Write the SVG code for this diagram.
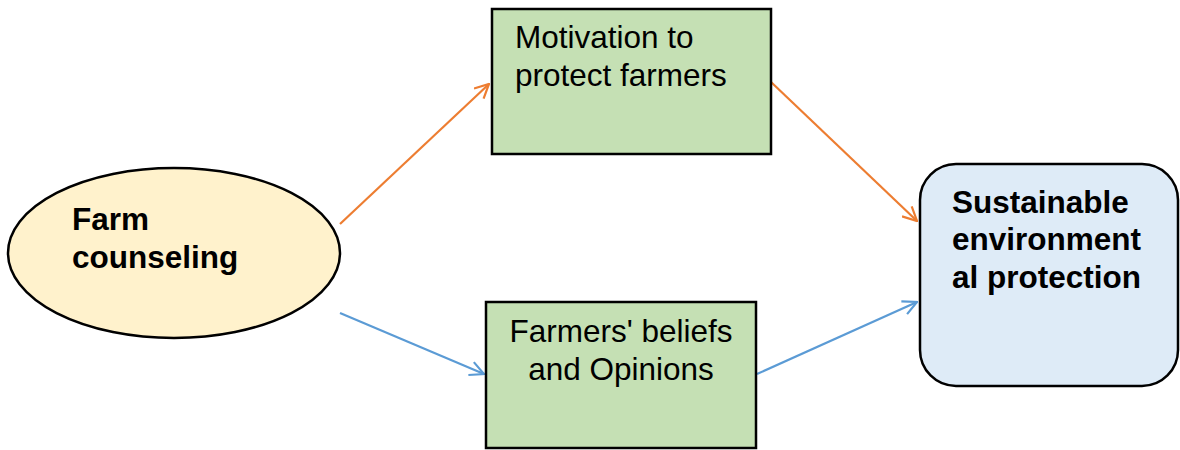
<svg xmlns="http://www.w3.org/2000/svg" width="1180" height="450" viewBox="0 0 1180 450">
<style>
.reg{font-family:"Liberation Sans",Arial,sans-serif;font-size:31.5px;fill:#000}
.bold{font-family:"Liberation Sans",Arial,sans-serif;font-size:31.5px;font-weight:bold;fill:#000}
.box{stroke:#000;stroke-width:2.5}
.or{stroke:#ED7D31;stroke-width:2.2;fill:none}
.bl{stroke:#5B9BD5;stroke-width:2.2;fill:none}
</style>
<defs>
<marker id="ao" viewBox="0 0 16 16" refX="15" refY="8" markerWidth="16" markerHeight="16" markerUnits="userSpaceOnUse" orient="auto">
<path d="M1,1 L15,8 L1,15" fill="none" stroke="#ED7D31" stroke-width="2.2"/>
</marker>
<marker id="ab" viewBox="0 0 16 16" refX="15" refY="8" markerWidth="16" markerHeight="16" markerUnits="userSpaceOnUse" orient="auto">
<path d="M1,1 L15,8 L1,15" fill="none" stroke="#5B9BD5" stroke-width="2.2"/>
</marker>
</defs>
<rect width="1180" height="450" fill="#fff"/>
<g id="connectors">
<line class="or" x1="340" y1="224" x2="489" y2="84" marker-end="url(#ao)"/>
<line class="or" x1="771" y1="82" x2="917" y2="221" marker-end="url(#ao)"/>
<line class="bl" x1="340" y1="313" x2="484" y2="374" marker-end="url(#ab)"/>
<line class="bl" x1="757" y1="374" x2="917" y2="302" marker-end="url(#ab)"/>
</g>
<g id="farm-counseling">
<ellipse class="box" cx="174" cy="253" rx="166" ry="85" fill="#FFF2CC"/>
<text class="bold" x="72" y="230">Farm</text>
<text class="bold" x="72" y="268">counseling</text>
</g>
<g id="motivation">
<rect class="box" x="492" y="9" width="279" height="145" fill="#C5E0B4"/>
<text class="reg" x="515" y="48">Motivation to</text>
<text class="reg" x="515" y="86">protect farmers</text>
</g>
<g id="beliefs">
<rect class="box" x="486" y="302" width="270" height="146" fill="#C5E0B4"/>
<text class="reg" x="621" y="342" text-anchor="middle">Farmers' beliefs</text>
<text class="reg" x="621" y="380" text-anchor="middle">and Opinions</text>
</g>
<g id="sustainable">
<rect class="box" x="920" y="164" width="258" height="222" rx="36" ry="36" fill="#DEEBF7"/>
<text class="bold" x="952" y="213">Sustainable</text>
<text class="bold" x="952" y="250">environment</text>
<text class="bold" x="952" y="288">al protection</text>
</g>
</svg>
